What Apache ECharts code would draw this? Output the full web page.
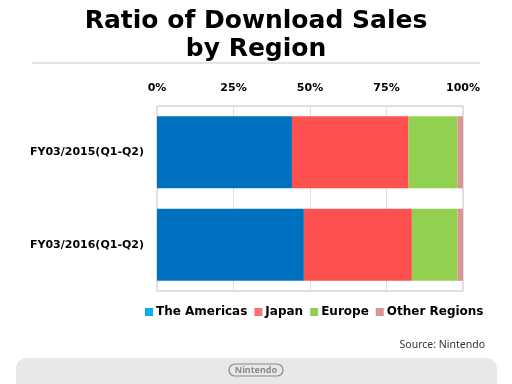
<!DOCTYPE html>
<html>
<head>
<meta charset="utf-8">
<script src="https://cdn.jsdelivr.net/npm/echarts@6/dist/echarts.min.js"></script>
<style>html,body{margin:0;padding:0;background:#fff;}#c{width:512px;height:384px;}</style>
</head>
<body>
<div id="c"></div>
<script>
var categories = ['FY03/2015(Q1-Q2)', 'FY03/2016(Q1-Q2)'];
var americas = [44.1, 48.0];
var japan = [38.1, 35.3];
var europe = [16.0, 14.9];
var other = [1.8, 1.8];
var tickLabels = ['0%', '25%', '50%', '75%', '100%'];

var barColors = ['#0070C0', '#FF5050', '#92D050', '#DA9694'];
var legendColors = ['#00B0F0', '#F87070', '#92D050', '#DA9694'];
var names = ['The Americas', 'Japan', 'Europe', 'Other Regions'];
var values = [americas, japan, europe, other];
var font = '"DejaVu Sans", sans-serif';
var font2 = '"Noto Sans", sans-serif';

var chart = echarts.init(document.getElementById('c'));
chart.setOption({
  animation: false,
  title: {
    text: 'Ratio of Download Sales\nby Region',
    left: 'center',
    top: 2,
    textStyle: { fontFamily: font, fontSize: 25, fontWeight: 'bold', color: '#000', lineHeight: 28 }
  },
  grid: { left: 157, right: 49, top: 106, bottom: 93, show: true, borderColor: '#BFBFBF', borderWidth: 1 },
  xAxis: {
    type: 'value', min: 0, max: 100, interval: 25, position: 'top',
    axisLine: { show: false }, axisTick: { show: false },
    splitLine: { lineStyle: { color: '#E0E0E0' } },
    axisLabel: {
      margin: 12, color: '#000', fontFamily: font, fontSize: 11, fontWeight: 'bold',
      formatter: function (v) { return tickLabels[Math.round(v / 25)]; }
    }
  },
  yAxis: {
    type: 'category', data: categories, inverse: true,
    axisLine: { show: false }, axisTick: { show: false },
    axisLabel: { margin: 13, color: '#000', fontFamily: font, fontSize: 11, fontWeight: 'bold' }
  },
  legend: {
    top: 301, left: 140, itemWidth: 8, itemHeight: 8, itemGap: 7,
    icon: 'rect',
    textStyle: { fontFamily: font, fontSize: 12, fontWeight: 'bold', color: '#000', padding: [0, 0, 0, -2] },
    data: names.map(function (n, i) { return { name: n, itemStyle: { color: legendColors[i] } }; })
  },
  series: names.map(function (n, i) {
    return {
      name: n, type: 'bar', stack: 'all', barWidth: '78%',
      itemStyle: { color: barColors[i] },
      data: values[i]
    };
  }),
  graphic: [
    { type: 'line', shape: { x1: 32, y1: 63, x2: 480, y2: 63 }, style: { stroke: '#C8C8C8', lineWidth: 1 } },
    { type: 'text', right: 27, top: 340, style: { text: 'Source: Nintendo', fontFamily: font2, fontSize: 10.5, fill: '#333' } },
    { type: 'rect', shape: { x: 16, y: 358, width: 481, height: 40, r: [10, 10, 0, 0] }, style: { fill: '#E8E8E8' } },
    { type: 'rect', shape: { x: 229, y: 364, width: 54, height: 12, r: 6 }, style: { fill: 'none', stroke: '#8A8A8A', lineWidth: 1.2 } },
    { type: 'text', x: 256, y: 370, style: { text: 'Nintendo', fontFamily: font2, fontSize: 9, fontWeight: 'bold', fill: '#8A8A8A', align: 'center', verticalAlign: 'middle' } }
  ]
});
</script>
</body>
</html>
